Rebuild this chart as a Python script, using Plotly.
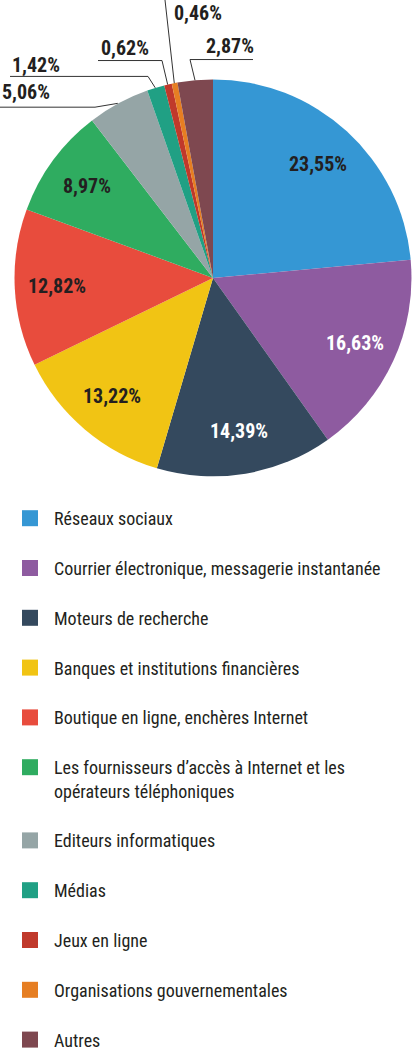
import math
import plotly.graph_objects as go

# données (en %)
categories = [
    "Réseaux sociaux",
    "Courrier électronique, messagerie instantanée",
    "Moteurs de recherche",
    "Banques et institutions financières",
    "Boutique en ligne, enchères Internet",
    "Les fournisseurs d’accès à Internet et les opérateurs téléphoniques",
    "Editeurs informatiques",
    "Médias",
    "Jeux en ligne",
    "Organisations gouvernementales",
    "Autres",
]
valeurs = [23.55, 16.63, 14.39, 13.22, 12.82, 8.97, 5.06, 1.42, 0.62, 0.46, 2.87]
couleurs = ["#3597d4", "#8e5ba0", "#34495e", "#f1c414", "#e84c3d", "#2fac60",
            "#95a5a6", "#20a084", "#c0392b", "#e67e22", "#7e4850"]

W, H = 414, 1058
FONT = "Liberation Sans Narrow, Noto Sans Condensed, Roboto Condensed, DejaVu Sans Condensed, Roboto, sans-serif"
TXT = "#231f20"
TXT_CLAIR = {"#8e5ba0", "#34495e"}  # parts foncées : texte blanc

# géométrie du camembert (pixels)
CX, CY, R = 213, 280, 200
SEUIL = 6  # en dessous : étiquette à l'extérieur


def px(x):
    return x / W


def py(y):
    return 1 - y / H


# retour à la ligne dans la légende + ligne vide pour l'espacement (pas pour le dernier)
coupures = {5: "Les fournisseurs d’accès à Internet et les<br>opérateurs téléphoniques"}
legende = [coupures.get(i, c) + ("<br> " if i < len(categories) - 1 else "")
           for i, c in enumerate(categories)]

fig = go.Figure(go.Pie(
    labels=categories,
    values=valeurs,
    sort=False,
    direction="clockwise",
    rotation=0,
    marker=dict(colors=couleurs, line=dict(width=0)),
    textinfo="none",
    hovertemplate="%{label}<br>%{value:.2f}%<extra></extra>",
    showlegend=False,
    domain=dict(x=[px(CX - R), px(CX + R)], y=[py(CY + R), py(CY - R)]),
))

# légende : un carré de 16 px par catégorie
for nom, c in zip(legende, couleurs):
    fig.add_trace(go.Scatter(
        x=[None], y=[None], mode="markers", name=nom,
        marker=dict(symbol="square", size=16, color=c, line=dict(width=0)),
        hoverinfo="skip",
    ))

# étiquettes extérieures avec traits de rappel (position texte, coude, départ du trait)
externes = {
    6: dict(tx=0, ty=93, coude=(95, 108), debut=(0, 108)),
    7: dict(tx=10, ty=65, coude=(148, 77), debut=(10, 77)),
    8: dict(tx=99, ty=48, coude=(162, 61), debut=(98, 61)),
    9: dict(tx=172, ty=13, coude=(165, 0), debut=(165, 0)),
    10: dict(tx=204, ty=46, coude=(190, 60), debut=(253, 60)),
}

total = sum(valeurs)
cumul = 0
annotations, shapes = [], []
for i, v in enumerate(valeurs):
    milieu = (cumul + v / 2) / total
    cumul += v
    a = 2 * math.pi * milieu
    texte = f"<b>{v:.2f}%</b>".replace(".", ",")
    if v >= SEUIL:
        # étiquette dans la part, sur l'angle médian
        annotations.append(dict(
            x=px(CX + 0.78 * R * math.sin(a)), y=py(CY - 0.78 * R * math.cos(a)),
            xref="paper", yref="paper", xanchor="center", yanchor="middle",
            showarrow=False, text=texte,
            font=dict(family=FONT, size=20,
                      color="white" if couleurs[i] in TXT_CLAIR else TXT),
        ))
        continue
    e = externes[i]
    bx, by = CX + R * math.sin(a), CY - R * math.cos(a)
    (x0, y0), (x1, y1) = e["debut"], e["coude"]
    shapes.append(dict(
        type="path", xref="paper", yref="paper",
        path=f"M{px(x0)},{py(y0)} L{px(x1)},{py(y1)} L{px(bx)},{py(by)}",
        line=dict(color="#333333", width=1),
    ))
    annotations.append(dict(
        x=px(e["tx"]), y=py(e["ty"]), xref="paper", yref="paper",
        xanchor="left", yanchor="middle", showarrow=False, text=texte,
        font=dict(family=FONT, size=20, color=TXT),
    ))

fig.update_layout(
    width=W, height=H, autosize=False,
    margin=dict(l=0, r=0, t=0, b=0),
    paper_bgcolor="white", plot_bgcolor="white",
    font=dict(family=FONT, color=TXT),
    xaxis=dict(visible=False), yaxis=dict(visible=False),
    showlegend=True,
    legend=dict(
        orientation="v", x=px(6), y=py(504), xanchor="left", yanchor="top",
        font=dict(family=FONT, size=18, color=TXT),
        valign="top", traceorder="normal", itemwidth=38,
    ),
    annotations=annotations,
    shapes=shapes,
)

# pas de marge autour de la page
fig.write_html("out.html", config={"displayModeBar": False},
               post_script="document.body.style.margin='0';")
